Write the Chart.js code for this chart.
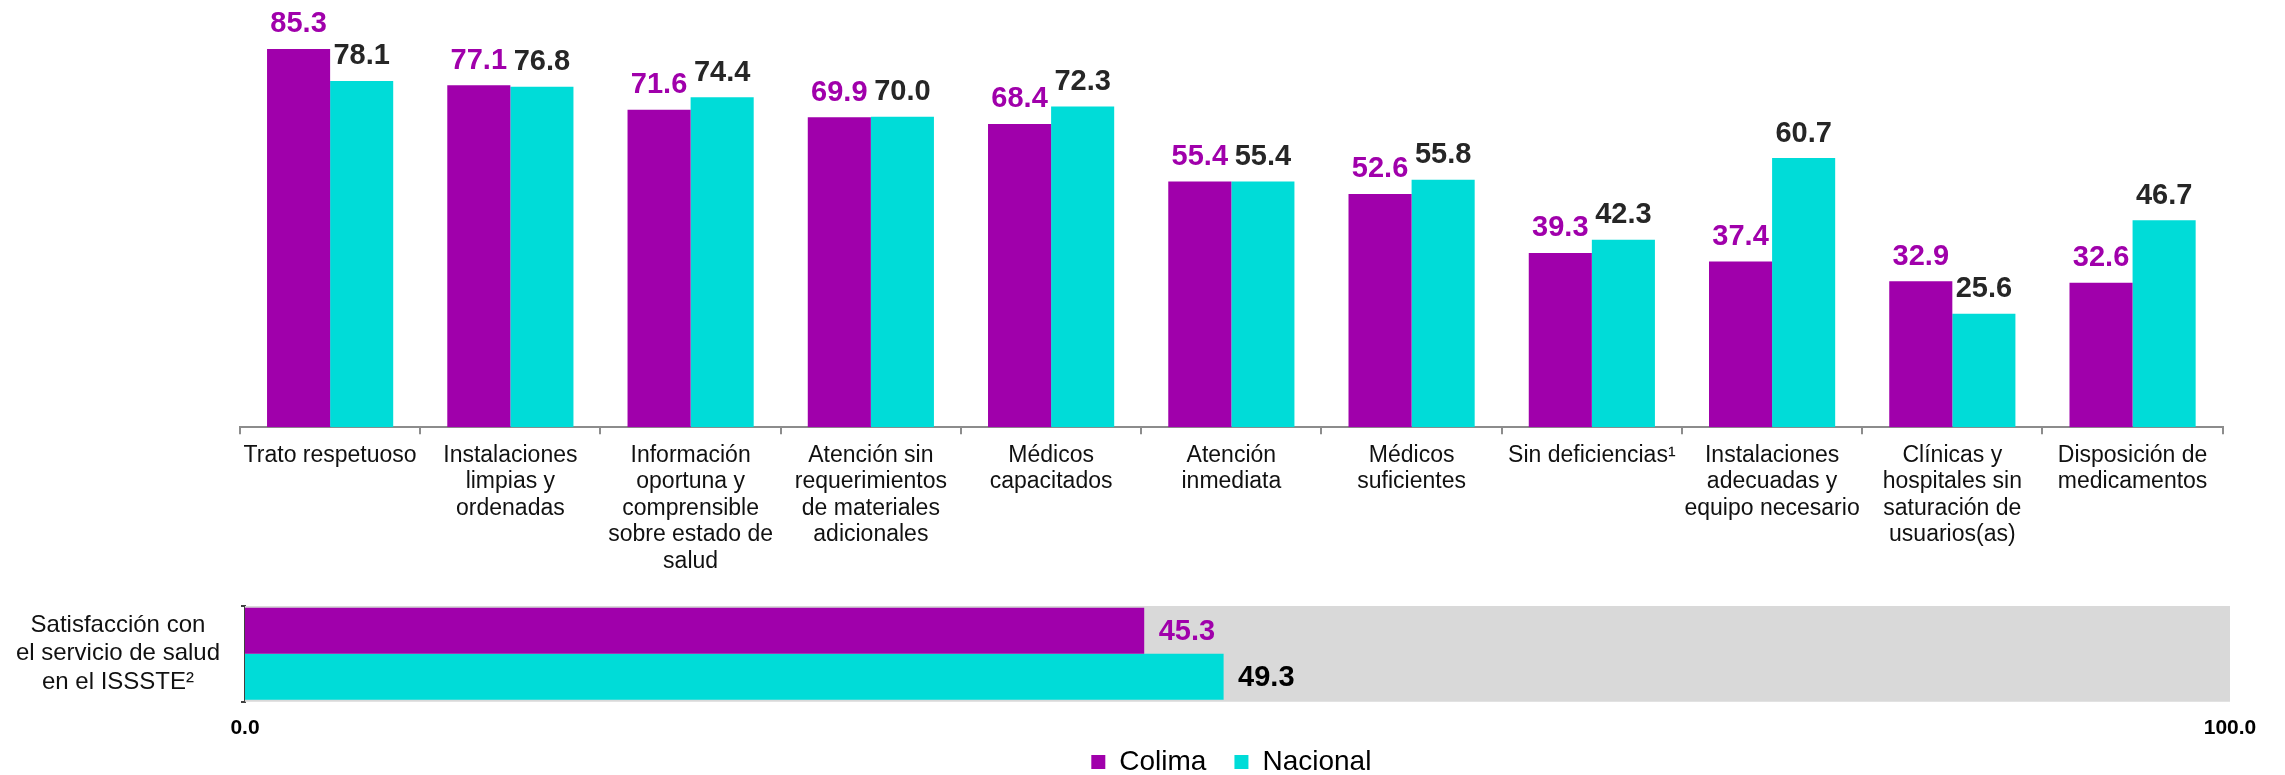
<!DOCTYPE html>
<html lang="es">
<head>
<meta charset="utf-8">
<title>Satisfacción con el servicio de salud en el ISSSTE</title>
<script src="https://cdn.jsdelivr.net/npm/chart.js@4.4.1/dist/chart.umd.min.js"></script>
<style>
  html, body { margin: 0; padding: 0; background: #fff; overflow: hidden; }
  #arriba { position: absolute; left: 0; top: 0; }
  #abajo { position: absolute; left: 0; top: 590px; }
</style>
</head>
<body>
<canvas id="arriba" width="2285" height="786"></canvas>
<canvas id="abajo" width="2285" height="170"></canvas>
<script>
// datos
const categorias = [
    ['Trato respetuoso'],
    ['Instalaciones', 'limpias y', 'ordenadas'],
    ['Información', 'oportuna y', 'comprensible', 'sobre estado de', 'salud'],
    ['Atención sin', 'requerimientos', 'de materiales', 'adicionales'],
    ['Médicos', 'capacitados'],
    ['Atención', 'inmediata'],
    ['Médicos', 'suficientes'],
    ['Sin deficiencias¹'],
    ['Instalaciones', 'adecuadas y', 'equipo necesario'],
    ['Clínicas y', 'hospitales sin', 'saturación de', 'usuarios(as)'],
    ['Disposición de', 'medicamentos']
];
const colima = [85.3, 77.1, 71.6, 69.9, 68.4, 55.4, 52.6, 39.3, 37.4, 32.9, 32.6];
const nacional = [78.1, 76.8, 74.4, 70.0, 72.3, 55.4, 55.8, 42.3, 60.7, 25.6, 46.7];

const satisfaccion = [['Satisfacción con', 'el servicio de salud', 'en el ISSSTE²']];
const satisfaccionColima = [45.3];
const satisfaccionNacional = [49.3];
const escalaCompleta = [100];

const MORADO = '#A000AB';
const CIAN = '#00DCD8';
const fuente = "'Liberation Sans', Arial, sans-serif";

Chart.defaults.font.family = fuente;
Chart.defaults.animation = false;

// etiquetas de valor encima / al lado de las barras
const etiquetasValor = {
    id: 'etiquetasValor',
    afterDatasetsDraw(chart) {
        const ctx = chart.ctx;
        const horizontal = chart.options.indexAxis === 'y';
        chart.data.datasets.forEach((ds, i) => {
            if (!ds.colorEtiqueta) return;
            const meta = chart.getDatasetMeta(i);
            ctx.save();
            ctx.font = 'bold 29px ' + fuente;
            ctx.fillStyle = ds.colorEtiqueta;
            meta.data.forEach((bar, j) => {
                const txt = ds.data[j].toFixed(1);
                if (horizontal) {
                    ctx.textAlign = 'left';
                    ctx.textBaseline = 'middle';
                    ctx.fillText(txt, bar.x + 14.5, bar.y + 1);
                } else {
                    ctx.textAlign = 'center';
                    ctx.textBaseline = 'alphabetic';
                    ctx.fillText(txt, bar.x, bar.y - 16.5);
                }
            });
            ctx.restore();
        });
    }
};

// gráfica de columnas (con la leyenda de toda la figura)
new Chart(document.getElementById('arriba'), {
    type: 'bar',
    data: {
        labels: categorias,
        datasets: [{
            label: 'Colima',
            data: colima,
            backgroundColor: MORADO,
            colorEtiqueta: MORADO,
            categoryPercentage: 0.7,
            barPercentage: 1.0
        }, {
            label: 'Nacional',
            data: nacional,
            backgroundColor: CIAN,
            colorEtiqueta: '#262626',
            categoryPercentage: 0.7,
            barPercentage: 1.0
        }]
    },
    options: {
        responsive: false,
        layout: { padding: { left: 240, right: 62.3, top: 28.1, bottom: 0 } },
        scales: {
            x: {
                ticks: {
                    font: { size: 23, lineHeight: 1.15 },
                    color: '#111',
                    padding: 8,
                    maxRotation: 0,
                    autoSkip: false
                },
                grid: { drawOnChartArea: false, tickLength: 7, color: '#8c8c8c', lineWidth: 2 },
                border: { color: '#8c8c8c', width: 2 },
                afterFit(scale) { scale.height = 292.7; }
            },
            y: { display: false, min: 0, max: 90 }
        },
        plugins: {
            legend: {
                position: 'bottom',
                fullSize: false,
                labels: {
                    boxWidth: 14,
                    boxHeight: 14,
                    padding: 28,
                    font: { size: 28 },
                    color: '#000'
                }
            },
            tooltip: { enabled: false }
        }
    },
    plugins: [etiquetasValor]
});

// barra horizontal de satisfacción
new Chart(document.getElementById('abajo'), {
    type: 'bar',
    data: {
        labels: satisfaccion,
        datasets: [{
            label: 'Colima',
            data: satisfaccionColima,
            backgroundColor: MORADO,
            colorEtiqueta: MORADO,
            categoryPercentage: 0.961,
            barPercentage: 1.0
        }, {
            label: 'Nacional',
            data: satisfaccionNacional,
            backgroundColor: CIAN,
            colorEtiqueta: '#000',
            categoryPercentage: 0.961,
            barPercentage: 1.0
        }, {
            label: 'Total',
            data: escalaCompleta,
            backgroundColor: '#D9D9D9',
            grouped: false,
            categoryPercentage: 1.0,
            barPercentage: 1.0
        }]
    },
    options: {
        responsive: false,
        indexAxis: 'y',
        layout: { padding: { left: 0, right: 55, top: 16, bottom: 5.7 } },
        scales: {
            x: {
                min: 0,
                max: 100,
                ticks: {
                    stepSize: 100,
                    autoSkip: false,
                    callback: v => v.toFixed(1),
                    font: { size: 21, weight: 'bold' },
                    color: '#000',
                    padding: 13.7,
                    maxRotation: 0
                },
                grid: { display: false, drawTicks: false },
                border: { display: false }
            },
            y: {
                ticks: {
                    font: { size: 24, lineHeight: 1.17 },
                    color: '#111',
                    crossAlign: 'center',
                    padding: 21
                },
                grid: { drawOnChartArea: false, tickLength: 4, color: '#404040', lineWidth: 2 },
                border: { color: '#404040', width: 2 },
                afterFit(scale) {
                    scale.width = 245;
                    scale.paddingTop = 0;
                    scale.paddingBottom = 0;
                }
            }
        },
        plugins: { legend: { display: false }, tooltip: { enabled: false } }
    },
    plugins: [etiquetasValor]
});
</script>
</body>
</html>
